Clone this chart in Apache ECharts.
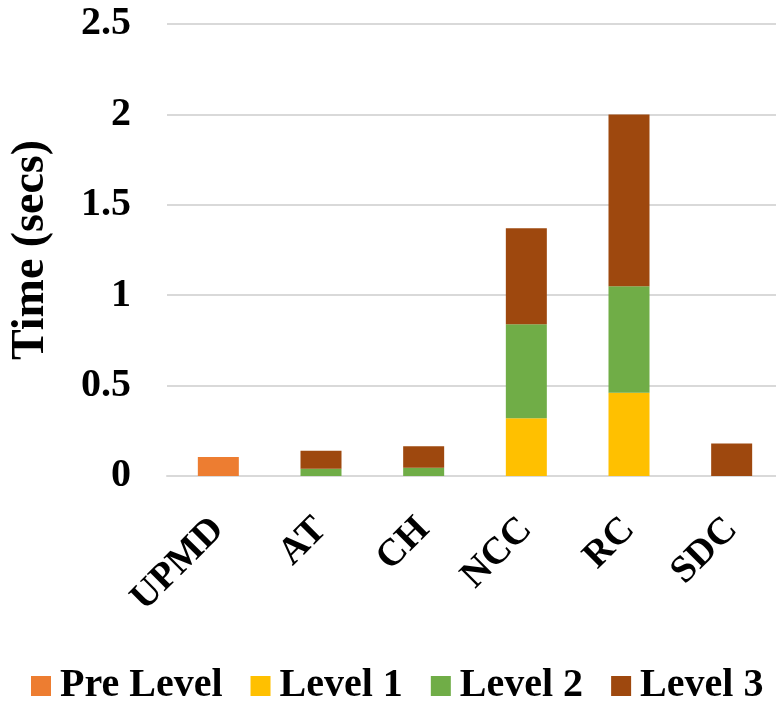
<!DOCTYPE html>
<html>
<head>
<meta charset="utf-8">
<script src="https://cdn.jsdelivr.net/npm/echarts@6/dist/echarts.min.js"></script>
<style>
  html, body { margin: 0; padding: 0; background: #ffffff; }
  #chart { width: 776px; height: 708px; }
</style>
</head>
<body>
<div id="chart"></div>
<script>
// Methods on the x axis
const categories = ['UPMD', 'AT', 'CH', 'NCC', 'RC', 'SDC'];

// Time spent in each stage (seconds)
const preLevel = [0.105, 0, 0, 0, 0, 0];
const level1   = [0, 0, 0, 0.32, 0.46, 0];
const level2   = [0, 0.04, 0.045, 0.52, 0.59, 0];
const level3   = [0, 0.10, 0.12, 0.53, 0.95, 0.18];

// Y axis ticks
const yTicks = [0, 0.5, 1, 1.5, 2, 2.5];

const FONT = '"Liberation Serif", "Times New Roman", serif';
const colors = ['#ED7D31', '#FFC000', '#70AD47', '#9E480E'];

const chart = echarts.init(document.getElementById('chart'), null, { renderer: 'canvas' });

function bar(name, data, color) {
  return {
    name: name,
    type: 'bar',
    stack: 'time',
    data: data,
    barWidth: 41,
    itemStyle: { color: color },
    emphasis: { disabled: true }
  };
}

chart.setOption({
  animation: false,
  color: colors,
  grid: {
    left: 167, right: -7, top: 24, bottom: 232,
    containLabel: false,
    outerBoundsMode: 'none'
  },
  legend: {
    bottom: -3,
    left: 26,
    itemWidth: 20,
    itemHeight: 20,
    itemGap: 28,
    icon: 'rect',
    textStyle: {
      fontFamily: FONT, fontSize: 40, fontWeight: 'bold', color: '#000',
      padding: [0, 0, 0, 4]
    },
    data: ['Pre Level', 'Level 1', 'Level 2', 'Level 3']
  },
  xAxis: {
    type: 'category',
    data: categories,
    axisTick: { show: false },
    axisLine: { lineStyle: { color: '#d9d9d9', width: 2 } },
    axisLabel: {
      interval: 0,
      rotate: 45,
      margin: 48,
      fontFamily: FONT,
      fontSize: 38,
      fontWeight: 'bold',
      color: '#000'
    }
  },
  yAxis: {
    type: 'value',
    min: yTicks[0],
    max: yTicks[yTicks.length - 1],
    interval: yTicks[1] - yTicks[0],
    name: 'Time (secs)',
    nameLocation: 'middle',
    nameRotate: 90,
    nameGap: 113,
    nameTextStyle: { fontFamily: FONT, fontSize: 46, fontWeight: 'bold', color: '#000' },
    axisLine: { show: false },
    axisTick: { show: false },
    splitLine: { lineStyle: { color: '#d9d9d9', width: 2 } },
    axisLabel: {
      margin: 36,
      fontFamily: FONT,
      fontSize: 40,
      fontWeight: 'bold',
      color: '#000'
    }
  },
  series: [
    bar('Pre Level', preLevel, colors[0]),
    bar('Level 1', level1, colors[1]),
    bar('Level 2', level2, colors[2]),
    bar('Level 3', level3, colors[3])
  ]
});
</script>
</body>
</html>
